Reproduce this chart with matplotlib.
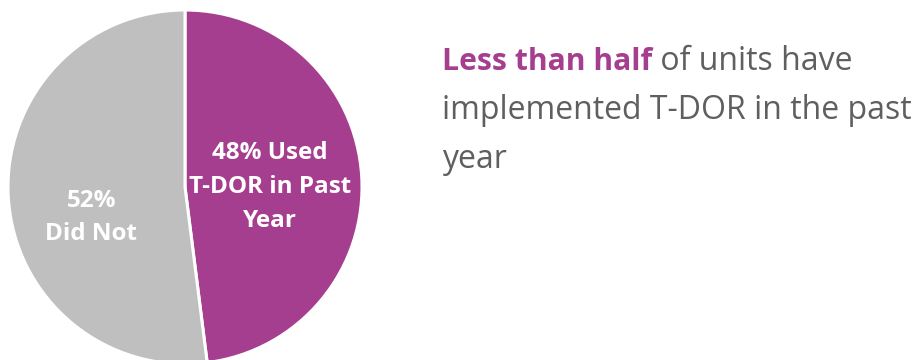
import matplotlib.pyplot as plt

# uso de T-DOR en el ultimo año
labels = ['Used T-DOR in Past Year', 'Did Not']
valores = [48, 52]
colores = ['#A63E8F', '#BFBFBF']

plt.rcParams['font.family'] = ['Open Sans', 'DejaVu Sans']

fig = plt.figure(figsize=(9.18, 3.6), dpi=100)
W, H = 918, 360

# pie a la izquierda
ax = fig.add_axes([8 / W, 1 - 364 / H, 354 / W, 354 / H])
wedges, _ = ax.pie(valores, colors=colores, startangle=90, counterclock=False,
                   wedgeprops={'edgecolor': 'white', 'linewidth': 2.2})
ax.set_xlim(-1, 1)
ax.set_ylim(-1, 1)
ax.set_aspect('equal')

ax.text(0.48, 0.0, f'{valores[0]}% Used\nT-DOR in Past\nYear', ha='center', va='center',
        color='white', fontsize=17.5, fontweight='bold', linespacing=1.55)
ax.text(-0.53, -0.17, f'{valores[1]}%\n{labels[1]}', ha='center', va='center',
        color='white', fontsize=17.5, fontweight='bold', linespacing=1.5)

# texto de la derecha
x0 = 442 / W
t1 = fig.text(x0, 1 - 70 / H, 'Less than half', color='#A63E8F', fontsize=21.7,
              fontweight='bold', va='baseline')
fig.canvas.draw()
bb = t1.get_window_extent(fig.canvas.get_renderer())
fig.text(bb.x1 / W, 1 - 70 / H, ' of units have', color='#5F5F5F', fontsize=23, va='baseline')
fig.text(x0, 1 - 119 / H, 'implemented T-DOR in the past', color='#5F5F5F', fontsize=23, va='baseline')
fig.text(x0, 1 - 168 / H, 'year', color='#5F5F5F', fontsize=23, va='baseline')

plt.savefig('out.png', dpi=100)
